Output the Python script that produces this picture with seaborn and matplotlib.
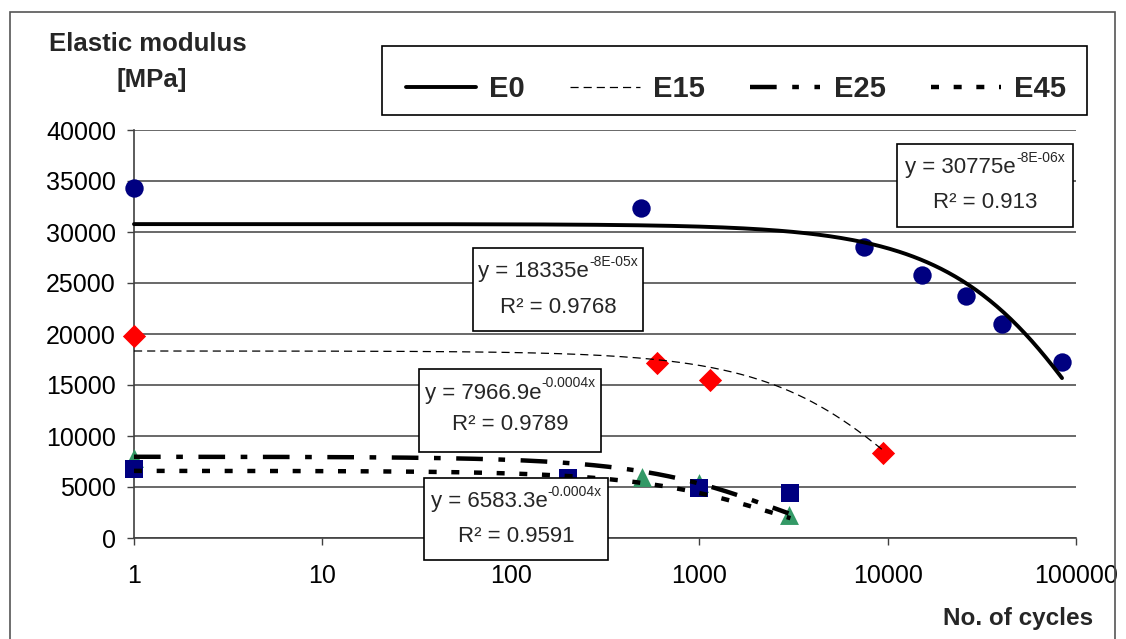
import numpy as np
import pandas as pd
import matplotlib
matplotlib.use("Agg")
import matplotlib.pyplot as plt
import seaborn as sns
from matplotlib.lines import Line2D
from matplotlib.patches import Rectangle
from matplotlib.ticker import NullLocator, FixedLocator, FixedFormatter

# ---------------- data ----------------
e0_cycles = [1, 490, 7500, 15200, 26000, 40300, 84300]
e0_modulus = [34300, 32400, 28500, 25800, 23700, 21000, 17300]
e15_cycles = [1, 600, 1140, 9500]
e15_modulus = [19800, 17200, 15500, 8300]
e25_cycles = [1, 500, 1000, 2980]
e25_modulus = [7800, 6000, 5400, 2250]
e45_cycles = [1, 202, 1000, 3050]
e45_modulus = [6760, 5880, 4900, 4400]

series_names = ["E0", "E15", "E25", "E45"]
trend_a = [30775, 18335, 7966.9, 6583.3]
trend_k = [-8e-06, -8e-05, -0.0004, -0.0004]
trend_eq_base = ["y = 30775e", "y = 18335e", "y = 7966.9e", "y = 6583.3e"]
trend_eq_exp = ["-8E-06x", "-8E-05x", "-0.0004x", "-0.0004x"]
trend_r2 = ["0.913", "0.9768", "0.9789", "0.9591"]

x_ticks = [1, 10, 100, 1000, 10000, 100000]
x_tick_labels = ["1", "10", "100", "1000", "10000", "100000"]
y_ticks = [0, 5000, 10000, 15000, 20000, 25000, 30000, 35000, 40000]
y_tick_labels = [str(v) for v in y_ticks]

# ---------------- styling ----------------
sns.set_theme(style="white")
plt.rcParams["font.family"] = ["Liberation Sans", "DejaVu Sans"]

W, H = 1126, 639
fig = plt.figure(figsize=(W / 100, H / 100), dpi=100)
fig.patch.set_facecolor("white")


def fx(px):
    return px / W


def fy(py):
    return 1 - py / H


ax = fig.add_axes([fx(134), fy(538), fx(1076) - fx(134), fy(130) - fy(538)])
ax.set_facecolor("white")
ax.set_xscale("log")

cycles = [e0_cycles, e15_cycles, e25_cycles, e45_cycles]
moduli = [e0_modulus, e15_modulus, e25_modulus, e45_modulus]
marker_styles = [
    dict(marker="o", s=175, color="#000080"),
    dict(marker="D", s=140, color="#FF0000"),
    dict(marker="^", s=185, color="#339966"),
    dict(marker="s", s=150, color="#000080"),
]
line_styles = [
    dict(lw=2.8, linestyle="-"),
    dict(lw=0.9, linestyle=(0, (6.5, 4))),
    dict(lw=3.2, linestyle=(0, (6, 3.5, 1.5, 3.5))),
    dict(lw=3.2, linestyle=(0, (1.8, 3.3))),
]

for name, xs, ys, ms in zip(series_names, cycles, moduli, marker_styles):
    df = pd.DataFrame({"cycles": xs, "modulus": ys})
    sns.scatterplot(data=df, x="cycles", y="modulus", ax=ax, linewidth=0,
                    clip_on=False, zorder=3, legend=False, **ms)

for xs, a, k, ls in zip(cycles, trend_a, trend_k, line_styles):
    xg = np.geomspace(1, max(xs), 400)
    tdf = pd.DataFrame({"cycles": xg, "modulus": a * np.exp(k * xg)})
    sns.lineplot(data=tdf, x="cycles", y="modulus", ax=ax, color="black",
                 estimator=None, sort=False, zorder=4, clip_on=False,
                 legend=False, **ls)

ax.set_xlim(1, 100000)
ax.set_ylim(0, 40000)
ax.xaxis.set_major_locator(FixedLocator(x_ticks))
ax.xaxis.set_major_formatter(FixedFormatter(x_tick_labels))
ax.xaxis.set_minor_locator(NullLocator())
ax.yaxis.set_major_locator(FixedLocator(y_ticks))
ax.yaxis.set_major_formatter(FixedFormatter(y_tick_labels))
ax.set_xlabel("")
ax.set_ylabel("")

gc = "#404040"
ax.yaxis.grid(True, color=gc, lw=1.1)
ax.xaxis.grid(False)
ax.set_axisbelow(True)
for side in ["top", "right"]:
    ax.spines[side].set_visible(False)
for side in ["left", "bottom"]:
    ax.spines[side].set_color(gc)
    ax.spines[side].set_linewidth(1.2)
ax.tick_params(axis="both", which="major", direction="out", length=5,
               width=1, color=gc, labelsize=18, labelcolor="black")
ax.tick_params(axis="x", pad=14, bottom=True)
ax.tick_params(axis="y", pad=8, left=True)

# axis titles
fig.text(fx(148), fy(44), "Elastic modulus", ha="center", va="center",
         fontsize=18.5, fontweight="bold")
fig.text(fx(152), fy(80), "[MPa]", ha="center", va="center",
         fontsize=18.5, fontweight="bold")
fig.text(fx(1018), fy(618), "No. of cycles", ha="center", va="center",
         fontsize=17.5, fontweight="bold")

# legend: box drawn separately, entries sit slightly low in it
legend_box = Rectangle((fx(382), fy(115)), fx(1087) - fx(382),
                       fy(46) - fy(115), transform=fig.transFigure,
                       facecolor="white", edgecolor="black", lw=1.2, zorder=4)
fig.add_artist(legend_box)
handles = [Line2D([], [], color="black", **ls) for ls in line_styles]
leg = fig.legend(handles, series_names, loc="center",
                 bbox_to_anchor=(fx(736), fy(89)), ncol=4, frameon=False,
                 handlelength=2.4, handletextpad=0.45, columnspacing=1.55,
                 borderpad=0.2, prop=dict(weight="bold", size=21))
leg.set_zorder(5)

# trendline equation boxes (x0, y0, x1, y1, line1_y, line2_y) in pixels
boxes = [(897, 144, 1073, 227, 168, 202),
         (473, 248, 643, 331, 272, 307),
         (419, 369, 601, 452, 393, 425),
         (424, 478, 608, 560, 502, 537)]

renderer = fig.canvas.get_renderer()
for (x0, y0, x1, y1, l1, l2), base, expo, r2 in zip(boxes, trend_eq_base,
                                                    trend_eq_exp, trend_r2):
    rect = Rectangle((fx(x0), fy(y1)), fx(x1) - fx(x0), fy(y0) - fy(y1),
                     transform=fig.transFigure, facecolor="white",
                     edgecolor="black", lw=1.2, zorder=10)
    fig.add_artist(rect)
    cx = (x0 + x1) / 2
    tb = fig.text(0, 0, base, fontsize=16, ha="left", va="center", zorder=11)
    te = fig.text(0, 0, expo, fontsize=10, ha="left", va="center", zorder=11)
    wb = tb.get_window_extent(renderer).width
    we = te.get_window_extent(renderer).width
    start = cx - (wb + we) / 2
    tb.set_position((fx(start), fy(l1)))
    te.set_position((fx(start + wb), fy(l1 - 10)))
    fig.text(fx(cx), fy(l2), "R\u00b2 = " + r2, fontsize=16, ha="center",
             va="center", zorder=11)

# outer chart frame
frame = Rectangle((fx(10), fy(700)), fx(1115) - fx(10), fy(12) - fy(700),
                  transform=fig.transFigure, facecolor="none",
                  edgecolor="#555555", lw=1.2, zorder=12)
fig.add_artist(frame)

fig.savefig("out.png", dpi=100)
